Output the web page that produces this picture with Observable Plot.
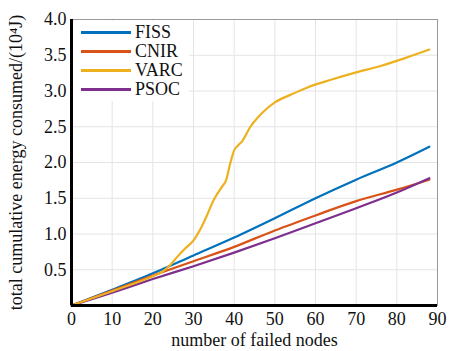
<!DOCTYPE html>
<html><head><meta charset="utf-8">
<style>
body{margin:0;background:#fff;}
#wrap{position:relative;width:463px;height:351px;}
#legend{position:absolute;left:73px;top:21px;background:#fff;padding:2px 6px 2px 8px;z-index:2;}
#legend div{display:flex;align-items:center;height:19px;font-size:18px;color:#111;}
#legend span.l{display:inline-block;width:50px;height:3px;margin-right:4px;}
</style></head>
<body>
<div id="wrap"><div id="legend"></div></div>
<script src="https://cdn.jsdelivr.net/npm/d3@7"></script>
<script src="https://cdn.jsdelivr.net/npm/@observablehq/plot@0.6"></script>
<script>
const seriesNames = ["FISS","CNIR","VARC","PSOC"];
const colors = ["#0072BD","#D95319","#EDB120","#7E2F8E"];
const xCommon = [0,10,20,30,40,50,60,70,80,88];
const fiss = [0,0.22,0.45,0.70,0.95,1.22,1.50,1.76,2.00,2.22];
const cnir = [0,0.21,0.42,0.62,0.82,1.05,1.26,1.46,1.62,1.76];
const psoc = [0,0.18,0.37,0.55,0.74,0.94,1.15,1.36,1.58,1.78];
const xVarc = [0,10,20,22,24,26,28,30,32,33,35,37,38,39,40,41,42,44,46,47,50,54,58,64,70,76,82,88];
const varc = [0,0.20,0.41,0.46,0.55,0.68,0.80,0.91,1.10,1.22,1.48,1.66,1.75,1.98,2.17,2.24,2.30,2.50,2.64,2.70,2.84,2.95,3.05,3.16,3.26,3.35,3.46,3.58];
const xTicks = [0,10,20,30,40,50,60,70,80,90];
const yTicks = [0.5,1.0,1.5,2.0,2.5,3.0,3.5,4.0];
const FONT = "'Times New Roman', Tinos, serif";

const data = [];
xCommon.forEach((x,i)=>{
  data.push({s:"FISS",x,y:fiss[i]});
  data.push({s:"CNIR",x,y:cnir[i]});
  data.push({s:"PSOC",x,y:psoc[i]});
});
xVarc.forEach((x,i)=>data.push({s:"VARC",x,y:varc[i]}));

const chart = Plot.plot({
  width:463, height:351,
  marginLeft:71, marginRight:26, marginTop:19, marginBottom:46,
  style:{fontFamily:FONT, fontSize:"17px", color:"#111", background:"#fff"},
  x:{domain:[0,90]},
  y:{domain:[0,4]},
  color:{domain:seriesNames, range:colors},
  marks:[
    Plot.gridX(xTicks,{stroke:"#e4e4e4", strokeOpacity:1}),
    Plot.gridY(yTicks,{stroke:"#e4e4e4", strokeOpacity:1}),
    Plot.frame({stroke:"#999", strokeWidth:1}),
    Plot.line(data,{x:"x", y:"y", z:"s", stroke:"s", strokeWidth:2.2, curve:"monotone-x"}),
    Plot.ruleX([0],{stroke:"#000", strokeWidth:3}),
    Plot.ruleY([0],{stroke:"#000", strokeWidth:3}),
    Plot.axisX(xTicks,{tickSize:0, tickPadding:7, label:"number of failed nodes", labelAnchor:"center", labelArrow:"none", labelOffset:40, fontSize:18}),
    Plot.axisY(yTicks,{tickSize:0, tickPadding:5, tickFormat:d=>d.toFixed(1), label:"total cumulative energy consumed/(10⁴J)", labelAnchor:"center", labelOffset:62, labelArrow:"none", fontSize:18})
  ]
});
chart.querySelectorAll("text").forEach(t=>t.setAttribute("style",(t.getAttribute("style")||"")+";font-family:"+FONT));
document.getElementById("wrap").prepend(chart);
const lg = document.getElementById("legend");
lg.setAttribute("style","font-family:"+FONT);
seriesNames.forEach((n,i)=>{
  const r=document.createElement("div");
  r.setAttribute("style","font-family:"+FONT);
  r.innerHTML=`<span class="l" style="background:${colors[i]}"></span>${n}`;
  lg.appendChild(r);
});
</script></body></html>
